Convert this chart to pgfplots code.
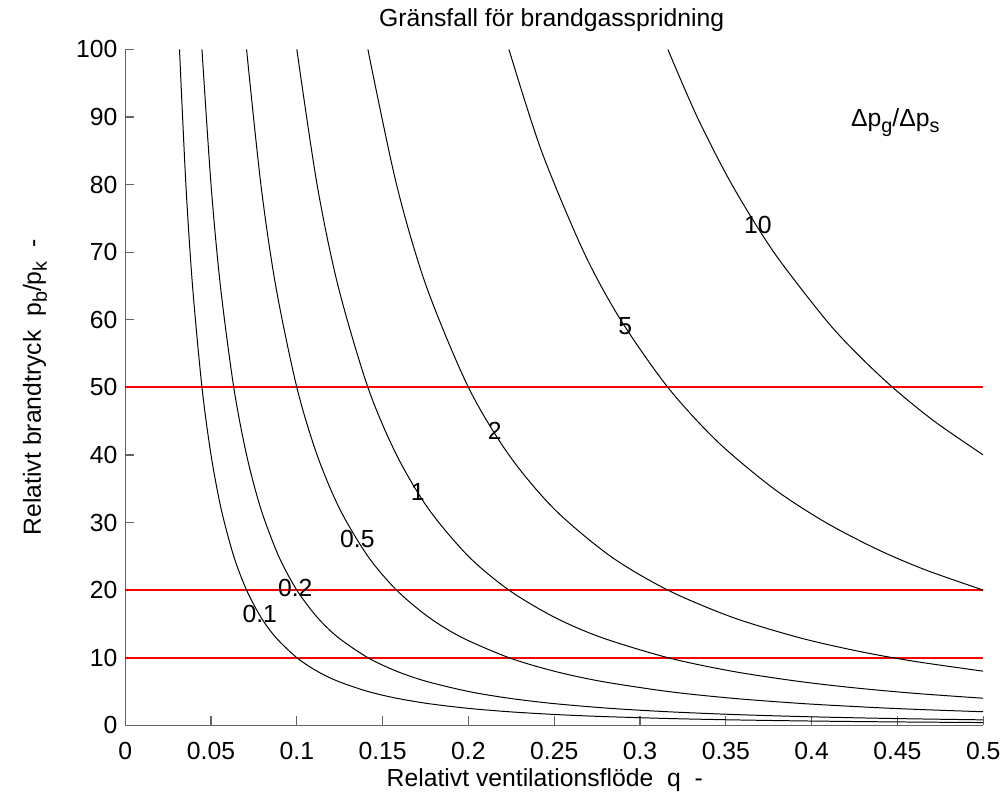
\documentclass[border=0pt]{standalone}
\usepackage{fontspec}
\setmainfont{Liberation Sans}
\usepackage{pgfplots}
\pgfplotsset{compat=1.18}
\definecolor{mred}{RGB}{255,0,0}
\definecolor{axgray}{RGB}{100,100,100}
\begin{document}
\newcommand{\fs}{\fontsize{12.5}{15}\selectfont}
\newcommand{\sub}[1]{\raisebox{-3pt}{\fontsize{10}{12}\selectfont #1}}
\begin{tikzpicture}
\begin{axis}[
  scale only axis,
  width=433.75pt, height=341.65pt,
  xmin=0, xmax=0.5, ymin=0, ymax=100,
  axis x line=bottom, axis y line=left,
  axis line style={-, draw=axgray, line width=0.6pt},
  tick style={draw=axgray, line width=0.6pt},
  tick align=inside, major tick length=4.5pt,
  xtick={0,0.05,0.1,0.15,0.2,0.25,0.3,0.35,0.4,0.45,0.5},
  xticklabels={0,0.05,0.1,0.15,0.2,0.25,0.3,0.35,0.4,0.45,0.5},
  ytick={0,10,20,30,40,50,60,70,80,90,100},
  /pgf/number format/assume math mode=true,
  ticklabel style={font=\fs},
  xticklabel style={anchor=base, inner sep=0pt, yshift=-17.25pt},
  yticklabel style={anchor=east, inner sep=0pt, xshift=-3.75pt},
  every axis title shift=0pt,
  title={Gränsfall för brandgasspridning},
  title style={font=\fs, at={(axis description cs:0.497,1)}, anchor=base, yshift=11.5pt},
  xlabel={Relativt ventilationsflöde\ \ q\ \ -},
  xlabel style={font=\fs, at={(axis description cs:0.489,0)}, anchor=base, yshift=-31pt},
  ylabel={Relativt brandtryck\ \ p\sub{b}/p\sub{k}\ \ -},
  ylabel style={font=\fs, at={(axis description cs:-0.0982,0.5)}, anchor=base},
]
% red reference lines
\addplot[draw=mred, line width=1pt] coordinates {(0,10) (0.5,10)};
\addplot[draw=mred, line width=1pt] coordinates {(0,20) (0.5,20)};
\addplot[draw=mred, line width=1pt] coordinates {(0,50) (0.5,50)};
% contour 0.1
\addplot[black, line width=0.5pt, smooth] coordinates {
(0.031623,100) (0.035355,80) (0.039223,65) (0.044721,50) (0.05,40) (0.055902,32)
(0.063246,25) (0.070711,20) (0.079057,16) (0.087706,13) (0.1,10) (0.11180,8)
(0.12403,6.5) (0.14142,5) (0.15811,4) (0.17678,3.2) (0.2,2.5) (0.22361,2)
(0.25,1.6) (0.27735,1.3) (0.31623,1) (0.35355,0.8) (0.39223,0.65) (0.42640,0.55)
(0.46127,0.47) (0.5,0.4)};
% contour 0.2
\addplot[black, line width=0.5pt, smooth] coordinates {
(0.044721,100) (0.05,80) (0.055470,65) (0.063246,50) (0.070711,40) (0.079057,32)
(0.089443,25) (0.1,20) (0.11180,16) (0.12403,13) (0.14142,10) (0.15811,8)
(0.17541,6.5) (0.2,5) (0.22361,4) (0.25,3.2) (0.28284,2.5) (0.31623,2)
(0.35355,1.6) (0.39223,1.3) (0.42640,1.1) (0.45883,0.95) (0.5,0.8)};
% contour 0.5
\addplot[black, line width=0.5pt, smooth] coordinates {
(0.070711,100) (0.079057,80) (0.087706,65) (0.1,50) (0.11180,40) (0.125,32)
(0.14142,25) (0.15811,20) (0.17678,16) (0.19612,13) (0.22361,10) (0.25,8)
(0.27735,6.5) (0.31623,5) (0.35355,4) (0.39528,3.2) (0.43853,2.6) (0.46625,2.3) (0.5,2)};
% contour 1
\addplot[black, line width=0.5pt, smooth] coordinates {
(0.1,100) (0.11180,80) (0.12403,65) (0.14142,50) (0.15811,40) (0.17678,32)
(0.2,25) (0.22361,20) (0.25,16) (0.27735,13) (0.31623,10) (0.35355,8)
(0.39223,6.5) (0.42640,5.5) (0.46127,4.7) (0.5,4)};
% contour 2
\addplot[black, line width=0.5pt, smooth] coordinates {
(0.14142,100) (0.15811,80) (0.17541,65) (0.2,50) (0.22361,40) (0.25,32)
(0.28284,25) (0.31623,20) (0.35355,16) (0.39223,13) (0.42640,11) (0.45883,9.5) (0.5,8)};
% contour 5
\addplot[black, line width=0.5pt, smooth] coordinates {
(0.22361,100) (0.24254,85) (0.26726,70) (0.28868,60) (0.31623,50) (0.34503,42)
(0.37796,35) (0.40825,30) (0.43853,26) (0.46625,23) (0.5,20)};
% contour 10
\addplot[black, line width=0.5pt, smooth] coordinates {
(0.31623,100) (0.33333,90) (0.35355,80) (0.37796,70) (0.40825,60) (0.42640,55)
(0.44721,50) (0.47140,45) (0.5,40)};
% contour labels
\node[font=\fs, inner sep=0pt] at (axis cs:0.0784,16.4) {0.1};
\node[font=\fs, inner sep=0pt] at (axis cs:0.0991,20.3) {0.2};
\node[font=\fs, inner sep=0pt] at (axis cs:0.1353,27.5) {0.5};
\node[font=\fs, inner sep=0pt] at (axis cs:0.1705,34.55) {1};
\node[font=\fs, inner sep=0pt] at (axis cs:0.2153,43.5) {2};
\node[font=\fs, inner sep=0pt] at (axis cs:0.2914,59.0) {5};
\node[font=\fs, inner sep=0pt] at (axis cs:0.3687,74.0) {10};
\node[font=\fs, inner sep=0pt, anchor=base west] at (axis cs:0.4228,88.6) {Δp\sub{g}/Δp\sub{s}};
\end{axis}
\pgfresetboundingbox
\useasboundingbox (-57.75pt,-34.35pt) rectangle (443.75pt,366.65pt);
\end{tikzpicture}
\end{document}
